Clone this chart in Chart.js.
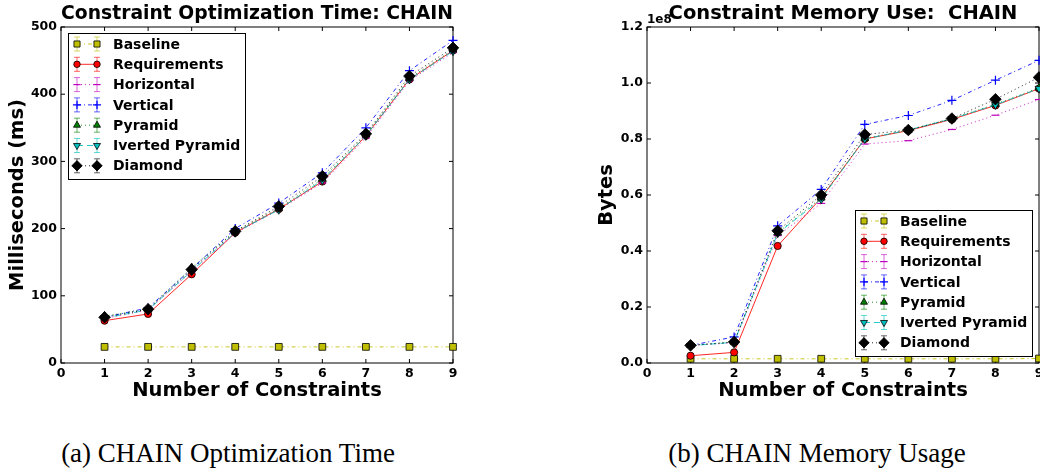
<!DOCTYPE html>
<html>
<head>
<meta charset="utf-8">
<script src="https://cdn.jsdelivr.net/npm/chart.js@4.4.1/dist/chart.umd.min.js"></script>
<style>
  html, body { margin: 0; padding: 0; background: #fff; overflow: hidden; width: 1040px; height: 471px; }
  .panel { position: absolute; top: 0; width: 500px; height: 410px; }
  #timePanel { left: 0; }
  #memPanel { left: 560px; }
  .caption { position: absolute; top: 440px; font-family: "Liberation Serif", serif; font-size: 27px; line-height: 27px; white-space: nowrap; transform: translateX(-50%); color: #000; }
</style>
</head>
<body>
<div class="panel" id="timePanel"><canvas id="timeChart"></canvas></div>
<div class="panel" id="memPanel"><canvas id="memChart"></canvas></div>
<div class="caption" style="left: 228px;">(a) CHAIN Optimization Time</div>
<div class="caption" style="left: 817px;">(b) CHAIN Memory Usage</div>
<script>
const constraints = [1, 2, 3, 4, 5, 6, 7, 8, 9];
const seriesNames = ['Baseline', 'Requirements', 'Horizontal', 'Vertical', 'Pyramid', 'Iverted Pyramid', 'Diamond'];

// optimization time, ms
const timeBaseline = [24, 24, 24, 24, 24, 24, 24, 24, 24];
const timeRequirements = [63, 73, 132, 194, 229, 270, 338, 422, 465];
const timeHorizontal = [66, 79, 136, 193, 228, 268, 335, 420, 462];
const timeVertical = [68, 82, 140, 200, 238, 283, 350, 435, 480];
const timePyramid = [70, 80, 142, 196, 230, 274, 340, 424, 466];
const timeInvPyramid = [67, 79, 137, 194, 228, 272, 338, 422, 464];
const timeDiamond = [68, 80, 139, 196, 233, 278, 341, 427, 469];

// memory use, in units of 1e8 bytes
const memBaseline = [0.015, 0.015, 0.015, 0.015, 0.015, 0.015, 0.015, 0.015, 0.016];
const memRequirements = [0.026, 0.038, 0.418, 0.59, 0.80, 0.83, 0.87, 0.92, 0.98];
const memHorizontal = [0.063, 0.072, 0.455, 0.57, 0.782, 0.794, 0.834, 0.885, 0.941];
const memVertical = [0.063, 0.093, 0.49, 0.62, 0.852, 0.884, 0.938, 1.01, 1.081];
const memPyramid = [0.063, 0.075, 0.465, 0.59, 0.802, 0.832, 0.873, 0.924, 0.983];
const memInvPyramid = [0.062, 0.074, 0.463, 0.585, 0.80, 0.832, 0.872, 0.922, 0.98];
const memDiamond = [0.063, 0.075, 0.472, 0.60, 0.816, 0.832, 0.873, 0.942, 1.02];

const timeTicks = [0, 100, 200, 300, 400, 500];
const memTicks = [0, 0.2, 0.4, 0.6, 0.8, 1.0, 1.2];

const FONT = 'DejaVu Sans';
Chart.defaults.font.family = FONT;
Chart.defaults.color = '#000';

const rgba = (c, a) => `rgba(${c[0]}, ${c[1]}, ${c[2]}, ${a})`;

// matplotlib classic look for each series
const seriesStyles = [
    { color: [191, 191, 0], dash: [4, 3, 1, 3], pointStyle: 'rect', radius: 4.8, filled: true },
    { color: [255, 0, 0], dash: [], pointStyle: 'circle', radius: 3.6, filled: true },
    { color: [191, 0, 191], dash: [1, 3], pointStyle: 'line', radius: 4, filled: false },
    { color: [0, 0, 255], dash: [4, 3, 1, 3], pointStyle: 'cross', radius: 4.5, filled: false },
    { color: [0, 128, 0], dash: [1, 3], pointStyle: 'triangle', radius: 4.5, filled: true },
    { color: [0, 191, 191], dash: [6, 4], pointStyle: 'triangle', rotation: 180, radius: 4.5, filled: true },
    { color: [0, 0, 0], dash: [1, 3], pointStyle: 'rectRot', radius: 5.8, filled: true },
];

const buildDatasets = (seriesValues) => seriesValues.map((values, i) => {
    const s = seriesStyles[i];
    return {
        label: seriesNames[i],
        data: values.map((v, j) => ({ x: constraints[j], y: v })),
        borderColor: rgba(s.color, 0.85),
        borderWidth: 1,
        borderDash: s.dash,
        pointStyle: s.pointStyle,
        pointRotation: s.rotation || 0,
        pointRadius: s.radius,
        pointHoverRadius: s.radius,
        pointBackgroundColor: s.filled ? rgba(s.color, 1) : 'rgba(0, 0, 0, 0)',
        pointBorderColor: s.filled ? '#000' : rgba(s.color, 1),
        pointBorderWidth: s.filled ? 0.8 : 1.2,
        tension: 0,
        fill: false,
        clip: false,
        order: seriesValues.length - 1 - i,  // last series on top, like matplotlib
    };
});

// axes box with inward ticks on all four sides
const framePlugin = {
    id: 'frame',
    beforeDatasetsDraw(chart) {
        const { ctx, chartArea: a, scales: { x, y } } = chart;
        const tick = 4;
        ctx.save();
        ctx.strokeStyle = '#000';
        ctx.lineWidth = 1;
        ctx.strokeRect(a.left, a.top, a.right - a.left, a.bottom - a.top);
        ctx.beginPath();
        x.ticks.forEach(t => {
            const px = x.getPixelForValue(t.value);
            ctx.moveTo(px, a.bottom); ctx.lineTo(px, a.bottom - tick);
            ctx.moveTo(px, a.top); ctx.lineTo(px, a.top + tick);
        });
        y.ticks.forEach(t => {
            const py = y.getPixelForValue(t.value);
            ctx.moveTo(a.left, py); ctx.lineTo(a.left + tick, py);
            ctx.moveTo(a.right, py); ctx.lineTo(a.right - tick, py);
        });
        ctx.stroke();
        ctx.restore();
    }
};

// legend box drawn inside the plot area
const boxLegendPlugin = {
    id: 'boxLegend',
    afterDraw(chart, args, opts) {
        const { ctx, chartArea: a } = chart;
        const w = 177, h = 146, rowH = 20.3;
        const left = opts.corner === 'topLeft' ? a.left + 7 : a.right - 7 - w;
        const top = opts.corner === 'topLeft' ? a.top + 6 : a.bottom - 7 - h;
        ctx.save();
        ctx.fillStyle = '#fff';
        ctx.fillRect(left, top, w, h);
        ctx.strokeStyle = '#000';
        ctx.lineWidth = 1;
        ctx.strokeRect(left + 0.5, top + 0.5, w, h);
        chart.data.datasets.forEach((ds, i) => {
            const s = seriesStyles[i];
            const cy = top + 11 + i * rowH;
            const x1 = left + 9, x2 = left + 29;
            ctx.setLineDash(s.dash);
            ctx.strokeStyle = ds.borderColor;
            ctx.lineWidth = 1;
            ctx.beginPath(); ctx.moveTo(x1, cy); ctx.lineTo(x2, cy); ctx.stroke();
            ctx.setLineDash([]);
            // error bar glyphs
            ctx.strokeStyle = rgba(s.color, 0.6);
            ctx.beginPath();
            [x1, x2].forEach(ex => {
                ctx.moveTo(ex, cy - 7); ctx.lineTo(ex, cy + 7);
                ctx.moveTo(ex - 3, cy - 7); ctx.lineTo(ex + 3, cy - 7);
                ctx.moveTo(ex - 3, cy + 7); ctx.lineTo(ex + 3, cy + 7);
            });
            ctx.stroke();
            ctx.fillStyle = ds.pointBackgroundColor;
            ctx.strokeStyle = ds.pointBorderColor;
            ctx.lineWidth = ds.pointBorderWidth;
            [x1, x2].forEach(mx => Chart.helpers.drawPoint(ctx, {
                pointStyle: s.pointStyle, radius: s.radius * 0.9, rotation: s.rotation || 0, borderWidth: ds.pointBorderWidth
            }, mx, cy));
            ctx.fillStyle = '#000';
            ctx.font = `bold 14px "${FONT}"`;
            ctx.textBaseline = 'middle';
            ctx.textAlign = 'left';
            ctx.fillText(ds.label, left + 45, cy + 1);
        });
        ctx.restore();
    }
};

// scientific offset text above the y axis ("1e8")
const offsetLabelPlugin = {
    id: 'offsetLabel',
    afterDraw(chart, args, opts) {
        if (!opts.text) return;
        const { ctx, chartArea: a } = chart;
        ctx.save();
        ctx.fillStyle = '#000';
        ctx.font = `bold 12px "${FONT}"`;
        ctx.textBaseline = 'alphabetic';
        ctx.textAlign = 'left';
        ctx.fillText(opts.text, a.left, a.top - 4);
        ctx.restore();
    }
};

const makeChart = (canvasId, cfg) => new Chart(document.getElementById(canvasId), {
    type: 'line',
    data: { datasets: buildDatasets(cfg.series) },
    options: {
        responsive: true,
        maintainAspectRatio: false,
        animation: false,
        events: [],
        layout: { padding: { left: 0, right: cfg.padRight, top: 0, bottom: 0 } },
        plugins: {
            legend: { display: false },
            tooltip: { enabled: false },
            title: {
                display: true,
                text: cfg.title,
                fullSize: false,
                color: '#000',
                font: { family: FONT, size: 19.5, weight: 'bold' },
                padding: { top: 2.3, bottom: 1.3 },
            },
            boxLegend: { corner: cfg.legendCorner },
            offsetLabel: { text: cfg.offsetText },
        },
        scales: {
            x: {
                type: 'linear',
                min: 0,
                max: 9,
                afterBuildTicks: s => { s.ticks = [0, ...constraints].map(v => ({ value: v })); },
                ticks: {
                    autoSkip: false,
                    maxRotation: 0,
                    padding: 3,
                    font: { family: FONT, size: 12.5, weight: 'bold' },
                },
                grid: { display: false, drawTicks: false },
                border: { display: false },
                title: {
                    display: true,
                    text: 'Number of Constraints',
                    font: { family: FONT, size: 19.5, weight: 'bold' },
                    padding: { top: 0, bottom: 7.3 },
                },
                afterFit: s => { s.height = 47; },
            },
            y: {
                min: cfg.yTicks[0],
                max: cfg.yTicks[cfg.yTicks.length - 1],
                afterBuildTicks: s => { s.ticks = cfg.yTicks.map(v => ({ value: v })); },
                ticks: {
                    padding: 4,
                    font: { family: FONT, size: 12.5, weight: 'bold' },
                    callback: cfg.yFormat,
                },
                grid: { display: false, drawTicks: false },
                border: { display: false },
                title: {
                    display: true,
                    text: cfg.yTitle,
                    font: { family: FONT, size: 19.5, weight: 'bold' },
                    padding: { top: cfg.yTitlePad, bottom: 0 },
                },
                afterFit: s => { s.width = cfg.yWidth; },
            },
        },
    },
    plugins: [framePlugin, boxLegendPlugin, offsetLabelPlugin],
});

makeChart('timeChart', {
    title: 'Constraint Optimization Time: CHAIN',
    series: [timeBaseline, timeRequirements, timeHorizontal, timeVertical, timePyramid, timeInvPyramid, timeDiamond],
    yTicks: timeTicks,
    yFormat: v => String(v),
    yTitle: 'Milliseconds (ms)',
    yTitlePad: 6.3,
    yWidth: 61,
    padRight: 47,
    legendCorner: 'topLeft',
    offsetText: '',
});

makeChart('memChart', {
    title: 'Constraint Memory Use:  CHAIN',
    series: [memBaseline, memRequirements, memHorizontal, memVertical, memPyramid, memInvPyramid, memDiamond],
    yTicks: memTicks,
    yFormat: v => Number(v).toFixed(1),
    yTitle: 'Bytes',
    yTitlePad: 35.3,
    yWidth: 87,
    padRight: 21,
    legendCorner: 'bottomRight',
    offsetText: '1e8',
});
</script>
</body>
</html>
